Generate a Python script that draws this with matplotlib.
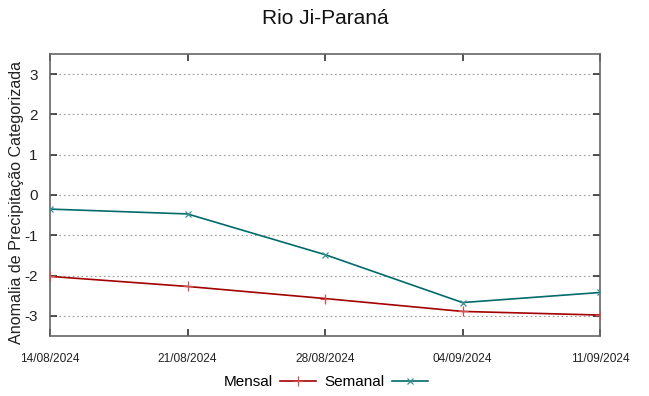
import matplotlib
matplotlib.use("Agg")
import matplotlib.pyplot as plt
import pandas as pd

dates = ["2024-08-14", "2024-08-21", "2024-08-28", "2024-09-04", "2024-09-11"]
tick_labels = ["14/08/2024", "21/08/2024", "28/08/2024", "04/09/2024", "11/09/2024"]
mensal = [-2.02, -2.27, -2.57, -2.89, -2.98]
semanal = [-0.35, -0.47, -1.48, -2.67, -2.42]
yticks = [-3, -2, -1, 0, 1, 2, 3]

plt.rcParams['font.family'] = ['Liberation Sans', 'DejaVu Sans']

x = pd.to_datetime(dates)

fig = plt.figure(figsize=(6.49, 3.96), dpi=100)
ax = fig.add_axes([50/649, (396-336)/396, 550/649, 282/396])

red = '#a30000'
teal = '#006b6b'
ax.plot(x, mensal, color=red, lw=1.2, marker='+', ms=7, mew=0.9,
        mec='#d05050', label='Mensal', zorder=3)
ax.plot(x, semanal, color=teal, lw=1.2, marker='x', ms=5, mew=0.9,
        mec='#3a9090', label='Semanal', zorder=3)

ax.set_xlim(x[0], x[-1])
ax.set_ylim(-3.5, 3.5)
ax.set_yticks(yticks)
ax.set_yticklabels([str(v) for v in yticks], fontsize=11, color='#222222')
ax.set_xticks(x)
ax.set_xticklabels(tick_labels, fontsize=8.6, color='#222222')

ax.yaxis.grid(True, linestyle=(0, (1.5, 2.5)), color='#999999', lw=0.8)
ax.xaxis.grid(False)
ax.tick_params(axis='both', direction='in', length=5, width=1.2, color='#333333',
               top=True, right=True)
ax.tick_params(axis='y', pad=9)
ax.tick_params(axis='x', pad=12)
for s in ax.spines.values():
    s.set_color('#666666')
    s.set_linewidth(1.2)

ax.set_ylabel('Anomalia de Precipitação Categorizada', fontsize=11.6, color='#222222')
ax.yaxis.set_label_coords((24 - 50) / 550, (336 - 202) / 282)
fig.text(325/649, 1 - 19/396, 'Rio Ji-Paraná', ha='center', va='center', fontsize=15, color='#111111')

fig.legend(loc='center', bbox_to_anchor=(326/649, 1 - 382/396), ncol=2, frameon=False,
           markerfirst=False, fontsize=11, handlelength=2.4, columnspacing=0.55,
           handletextpad=0.45, borderaxespad=0)

fig.savefig('out.png', dpi=100)
